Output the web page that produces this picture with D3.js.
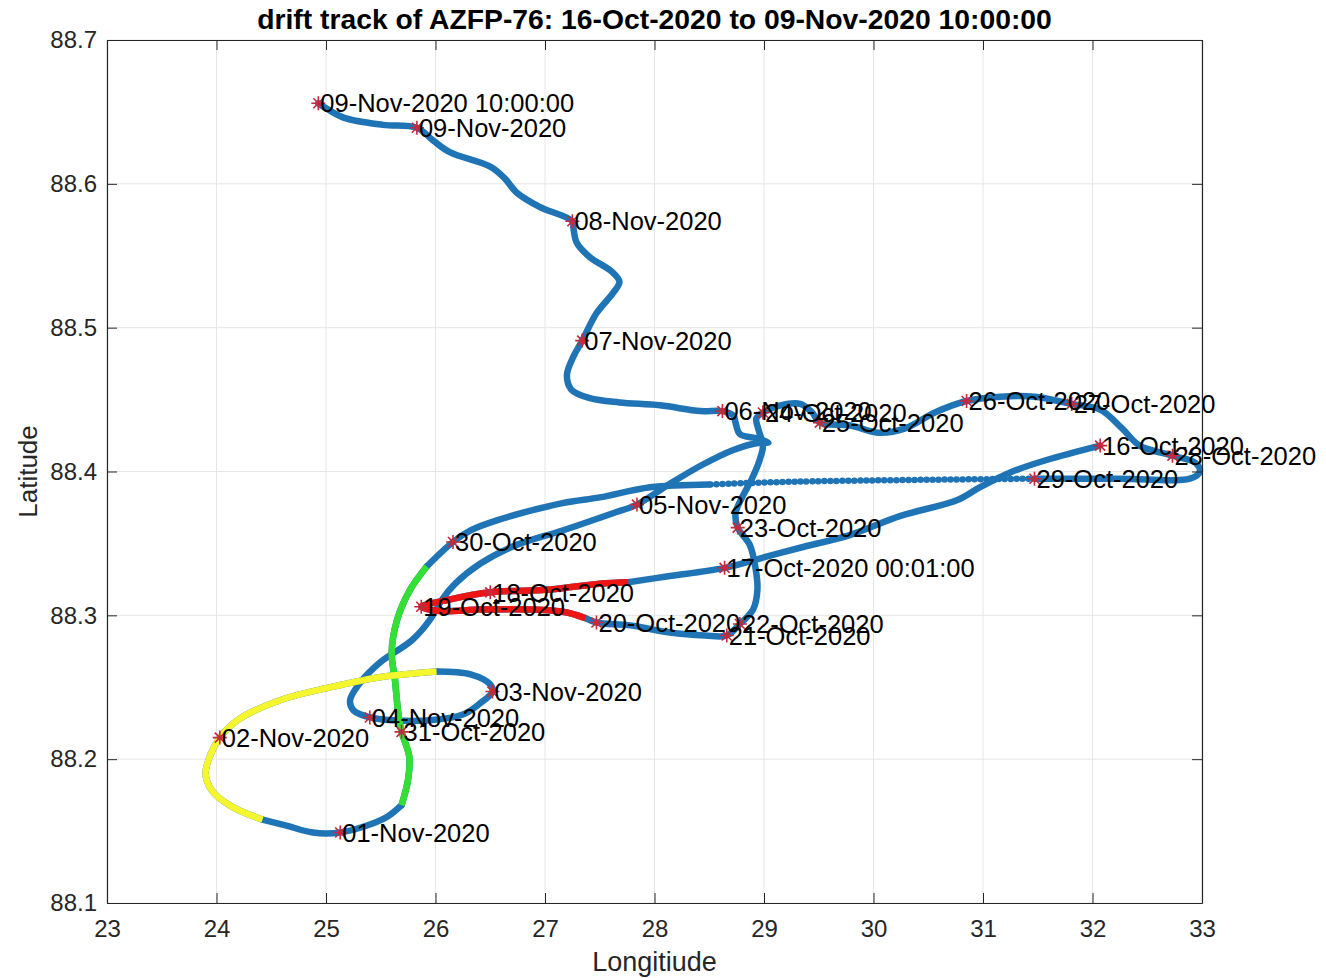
<!DOCTYPE html>
<html>
<head>
<meta charset="utf-8">
<script src="https://cdn.jsdelivr.net/npm/d3@7"></script>
<style>
  body { margin: 0; background: #fff; }
  svg { display: block; }
  text { font-family: "Liberation Sans", Helvetica, Arial, sans-serif; }
</style>
</head>
<body>
<div id="chart"></div>
<script>
// axis ticks
const xTicks = [23, 24, 25, 26, 27, 28, 29, 30, 31, 32, 33];
const yTicks = [88.1, 88.2, 88.3, 88.4, 88.5, 88.6, 88.7];

// drift track in time order: [lon, lat, tag]
// tag b = normal, d = sparse fixes, r / g / y = highlighted stretches
const track = [
  [32.07, 88.418, 'b'], [31.58, 88.408, 'b'], [31.27, 88.400, 'b'], [30.97, 88.389, 'b'],
  [30.76, 88.380, 'b'], [30.24, 88.369, 'b'], [29.79, 88.356, 'b'], [29.33, 88.347, 'b'],
  [29.03, 88.341, 'b'], [28.64, 88.333, 'b'], [28.11, 88.327, 'b'],
  [27.76, 88.323, 'r'], [27.50, 88.322, 'r'], [27.05, 88.318, 'r'], [26.50, 88.316, 'r'],
  [26.13, 88.311, 'r'], [25.87, 88.306, 'r'], [26.04, 88.303, 'r'], [26.41, 88.304, 'r'],
  [26.89, 88.304, 'r'], [27.20, 88.302, 'r'],
  [27.37, 88.298, 'b'], [27.47, 88.295, 'b'], [27.78, 88.293, 'b'], [28.14, 88.288, 'b'],
  [28.46, 88.286, 'b'], [28.66, 88.286, 'b'], [28.78, 88.294, 'b'], [28.90, 88.304, 'b'],
  [28.94, 88.318, 'b'], [28.92, 88.334, 'b'], [28.87, 88.349, 'b'], [28.76, 88.361, 'b'],
  [28.74, 88.371, 'b'], [28.80, 88.382, 'b'], [28.89, 88.395, 'b'], [28.96, 88.408, 'b'],
  [28.99, 88.418, 'b'], [28.95, 88.429, 'b'], [28.93, 88.437, 'b'], [28.99, 88.441, 'b'],
  [29.15, 88.446, 'b'], [29.33, 88.447, 'b'], [29.44, 88.441, 'b'], [29.51, 88.434, 'b'],
  [29.79, 88.432, 'b'], [30.04, 88.427, 'b'], [30.29, 88.430, 'b'], [30.56, 88.441, 'b'],
  [30.85, 88.449, 'b'], [31.16, 88.452, 'b'], [31.47, 88.452, 'b'], [31.81, 88.447, 'b'],
  [32.07, 88.443, 'b'], [32.27, 88.430, 'b'], [32.43, 88.418, 'b'], [32.73, 88.411, 'b'],
  [32.94, 88.406, 'b'], [32.98, 88.400, 'b'], [32.89, 88.395, 'b'], [32.25, 88.395, 'b'],
  [31.47, 88.395, 'd'], [29.33, 88.393, 'd'],
  [28.50, 88.391, 'b'], [27.96, 88.389, 'b'], [27.50, 88.382, 'b'], [27.16, 88.378, 'b'],
  [26.56, 88.366, 'b'], [26.32, 88.359, 'b'], [26.16, 88.351, 'b'],
  [25.92, 88.334, 'g'], [25.77, 88.318, 'g'], [25.65, 88.297, 'g'], [25.60, 88.274, 'g'],
  [25.63, 88.255, 'g'], [25.66, 88.232, 'g'], [25.69, 88.219, 'g'], [25.76, 88.202, 'g'],
  [25.75, 88.186, 'g'],
  [25.69, 88.168, 'b'], [25.56, 88.160, 'b'], [25.34, 88.153, 'b'], [25.13, 88.149, 'b'],
  [24.88, 88.149, 'b'], [24.63, 88.154, 'b'],
  [24.42, 88.158, 'y'], [24.14, 88.167, 'y'], [23.96, 88.178, 'y'], [23.90, 88.190, 'y'],
  [23.95, 88.204, 'y'], [24.03, 88.215, 'y'], [24.19, 88.227, 'y'], [24.58, 88.241, 'y'],
  [25.04, 88.250, 'y'], [25.49, 88.257, 'y'],
  [26.01, 88.261, 'b'], [26.32, 88.259, 'b'], [26.50, 88.252, 'b'], [26.52, 88.247, 'b'],
  [26.41, 88.239, 'b'], [26.25, 88.231, 'b'], [25.95, 88.227, 'b'], [25.61, 88.227, 'b'],
  [25.40, 88.229, 'b'], [25.25, 88.234, 'b'], [25.22, 88.241, 'b'], [25.31, 88.253, 'b'],
  [25.49, 88.267, 'b'], [25.79, 88.283, 'b'], [25.95, 88.297, 'b'], [26.06, 88.311, 'b'],
  [26.18, 88.322, 'b'], [26.41, 88.336, 'b'], [26.71, 88.348, 'b'], [27.16, 88.359, 'b'],
  [27.62, 88.371, 'b'], [27.84, 88.377, 'b'], [28.11, 88.390, 'b'], [28.42, 88.404, 'b'],
  [28.72, 88.415, 'b'], [28.96, 88.420, 'b'], [29.04, 88.420, 'b'], [28.94, 88.423, 'b'],
  [28.78, 88.426, 'b'], [28.74, 88.434, 'b'], [28.72, 88.439, 'b'], [28.62, 88.442, 'b'],
  [28.42, 88.442, 'b'], [28.05, 88.446, 'b'], [27.68, 88.448, 'b'], [27.41, 88.451, 'b'],
  [27.24, 88.457, 'b'], [27.20, 88.467, 'b'], [27.26, 88.480, 'b'], [27.34, 88.491, 'b'],
  [27.47, 88.510, 'b'], [27.62, 88.524, 'b'], [27.68, 88.532, 'b'], [27.61, 88.539, 'b'],
  [27.41, 88.549, 'b'], [27.29, 88.559, 'b'], [27.26, 88.569, 'b'], [27.25, 88.574, 'b'],
  [26.95, 88.584, 'b'], [26.74, 88.594, 'b'], [26.63, 88.604, 'b'], [26.50, 88.612, 'b'],
  [26.13, 88.622, 'b'], [25.98, 88.630, 'b'], [25.83, 88.639, 'b'], [25.52, 88.641, 'b'],
  [25.16, 88.646, 'b'], [24.99, 88.653, 'b'], [24.93, 88.656, 'b']
];

// daily position labels
const dayNames = [
  '16-Oct-2020', '17-Oct-2020 00:01:00', '18-Oct-2020', '19-Oct-2020', '20-Oct-2020',
  '21-Oct-2020', '22-Oct-2020', '23-Oct-2020', '24-Oct-2020', '25-Oct-2020',
  '26-Oct-2020', '27-Oct-2020', '28-Oct-2020', '29-Oct-2020', '30-Oct-2020',
  '31-Oct-2020', '01-Nov-2020', '02-Nov-2020', '03-Nov-2020', '04-Nov-2020',
  '05-Nov-2020', '06-Nov-2020', '07-Nov-2020', '08-Nov-2020', '09-Nov-2020',
  '09-Nov-2020 10:00:00'
];
const dayLon = [32.07, 28.64, 26.50, 25.87, 27.47, 28.66, 28.78, 28.76, 28.99, 29.51,
  30.85, 31.81, 32.73, 31.47, 26.16, 25.69, 25.13, 24.03, 26.52, 25.40,
  27.84, 28.62, 27.34, 27.25, 25.83, 24.93];
const dayLat = [88.418, 88.333, 88.316, 88.306, 88.295, 88.286, 88.294, 88.361, 88.441, 88.434,
  88.449, 88.447, 88.411, 88.395, 88.351, 88.219, 88.149, 88.215, 88.247, 88.229,
  88.377, 88.442, 88.491, 88.574, 88.639, 88.656];

const W = 1326, H = 978;
const margin = { left: 107, right: 124, top: 40, bottom: 75 };
const lineColors = { b: '#1f74b6', d: '#1f74b6', r: '#ee1515', g: '#35e035', y: '#f6f62e' };

const x = d3.scaleLinear().domain([23, 33]).range([margin.left, W - margin.right]);
const y = d3.scaleLinear().domain([88.1, 88.7]).range([H - margin.bottom, margin.top]);

const svg = d3.select('#chart').append('svg')
  .attr('width', W).attr('height', H);

// grid
const grid = svg.append('g').attr('stroke', '#e6e6e6').attr('stroke-width', 1);
grid.selectAll('.gx').data(xTicks).join('line')
  .attr('x1', d => x(d)).attr('x2', d => x(d))
  .attr('y1', y.range()[0]).attr('y2', y.range()[1]);
grid.selectAll('.gy').data(yTicks).join('line')
  .attr('y1', d => y(d)).attr('y2', d => y(d))
  .attr('x1', x.range()[0]).attr('x2', x.range()[1]);

// split track into runs of the same tag, each run joined to the next point
function runs(rows) {
  const out = [];
  let cur = null;
  rows.forEach(r => {
    if (!cur || cur.tag !== r[2]) {
      if (cur) cur.pts.push(r);
      cur = { tag: r[2], pts: [] };
      out.push(cur);
    }
    cur.pts.push(r);
  });
  return out;
}
const trackRuns = runs(track);

const line = d3.line()
  .x(d => x(d[0]))
  .y(d => y(d[1]))
  .curve(d3.curveCatmullRom.alpha(0.5));

const plot = svg.append('g');

// whole track in blue first
plot.selectAll('.base').data(trackRuns).join('path')
  .attr('d', d => line(d.pts))
  .attr('fill', 'none')
  .attr('stroke', lineColors.b)
  .attr('stroke-width', d => d.tag === 'd' ? 6.5 : 6.5)
  .attr('stroke-linecap', 'round')
  .attr('stroke-linejoin', 'round')
  .attr('stroke-dasharray', d => d.tag === 'd' ? '0 6' : null);

// highlighted stretches on top
plot.selectAll('.hi').data(trackRuns.filter(r => 'rgy'.includes(r.tag))).join('path')
  .attr('d', d => line(d.pts))
  .attr('fill', 'none')
  .attr('stroke', d => lineColors[d.tag])
  .attr('stroke-width', 6.5)
  .attr('stroke-linejoin', 'round');

// day markers (asterisk) and labels
const days = dayNames.map((n, i) => ({ name: n, lon: dayLon[i], lat: dayLat[i] }));
const star = 'M-7,0H7M0,-7V7M-5,-5L5,5M-5,5L5,-5';
plot.selectAll('.mk').data(days).join('path')
  .attr('transform', d => `translate(${x(d.lon)},${y(d.lat)})`)
  .attr('d', star)
  .attr('stroke', '#c42a3a')
  .attr('stroke-width', 1.6)
  .attr('fill', 'none');

plot.selectAll('.lb').data(days).join('text')
  .attr('x', d => x(d.lon) + 2)
  .attr('y', d => y(d.lat))
  .attr('dy', '0.36em')
  .attr('font-size', '25.5px')
  .attr('fill', '#000')
  .text(d => d.name);

// box + inward ticks on all sides
const axisColor = '#262626';
const tickLen = 10;
const xb = svg.append('g').attr('transform', `translate(0,${y.range()[0]})`)
  .call(d3.axisBottom(x).tickValues(xTicks).tickSize(-tickLen).tickSizeOuter(0).tickPadding(17));
const xt = svg.append('g').attr('transform', `translate(0,${y.range()[1]})`)
  .call(d3.axisTop(x).tickValues(xTicks).tickSize(-tickLen).tickSizeOuter(0).tickFormat(''));
const yl = svg.append('g').attr('transform', `translate(${x.range()[0]},0)`)
  .call(d3.axisLeft(y).tickValues(yTicks).tickSize(-tickLen).tickSizeOuter(0)
    .tickPadding(10).tickFormat(d3.format('.1f')));
const yr = svg.append('g').attr('transform', `translate(${x.range()[1]},0)`)
  .call(d3.axisRight(y).tickValues(yTicks).tickSize(-tickLen).tickSizeOuter(0).tickFormat(''));

[xb, xt, yl, yr].forEach(g => {
  g.select('.domain').attr('stroke', axisColor).attr('stroke-width', 1.2);
  g.selectAll('.tick line').attr('stroke', axisColor).attr('stroke-width', 1);
  g.selectAll('.tick text')
    .attr('fill', axisColor)
    .attr('font-size', '24px')
    .attr('font-family', '"Liberation Sans", Helvetica, Arial, sans-serif');
});

// title and axis labels
svg.append('text')
  .attr('x', (x.range()[0] + x.range()[1]) / 2)
  .attr('y', 29)
  .attr('text-anchor', 'middle')
  .attr('font-size', '28.3px')
  .attr('font-weight', 'bold')
  .attr('fill', '#000')
  .text('drift track of AZFP-76: 16-Oct-2020 to 09-Nov-2020 10:00:00');

svg.append('text')
  .attr('x', (x.range()[0] + x.range()[1]) / 2)
  .attr('y', 971)
  .attr('text-anchor', 'middle')
  .attr('font-size', '27px')
  .attr('fill', axisColor)
  .text('Longitiude');

svg.append('text')
  .attr('transform', `translate(37,${(y.range()[0] + y.range()[1]) / 2}) rotate(-90)`)
  .attr('text-anchor', 'middle')
  .attr('font-size', '26px')
  .attr('fill', axisColor)
  .text('Latitude');
</script>
</body>
</html>
